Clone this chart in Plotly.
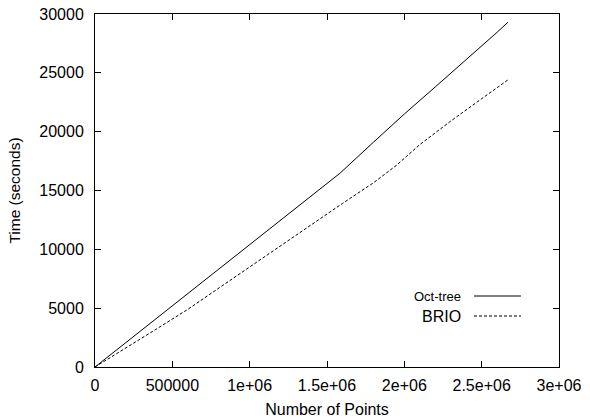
import plotly.graph_objects as go

# Data
octree_x = [0, 0.2e6, 0.4e6, 0.6e6, 0.8e6, 1.0e6, 1.2e6, 1.4e6, 1.585e6, 1.8e6, 2.0e6, 2.2e6, 2.4e6, 2.6e6, 2.67e6]
octree_y = [0, 2080, 4150, 6220, 8300, 10350, 12450, 14500, 16480, 19100, 21500, 23800, 26100, 28450, 29300]

brio_x = [0, 0.2e6, 0.4e6, 0.6e6, 0.8e6, 1.0e6, 1.2e6, 1.4e6, 1.6e6, 1.8e6, 1.95e6, 2.1e6, 2.3e6, 2.5e6, 2.67e6]
brio_y = [0, 1600, 3250, 4900, 6700, 8550, 10350, 12150, 13900, 15650, 17150, 18900, 20900, 22800, 24400]

x_tickvals = [0, 500000, 1000000, 1500000, 2000000, 2500000, 3000000]
x_ticktext = ["0", "500000", "1e+06", "1.5e+06", "2e+06", "2.5e+06", "3e+06"]
y_tickvals = [0, 5000, 10000, 15000, 20000, 25000, 30000]
y_ticktext = ["0", "5000", "10000", "15000", "20000", "25000", "30000"]

font_family = "Liberation Sans, Arial, sans-serif"

fig = go.Figure()
fig.add_trace(go.Scatter(x=octree_x, y=octree_y, mode="lines", name="Oct-tree",
                         line=dict(color="black", width=1), showlegend=False))
fig.add_trace(go.Scatter(x=brio_x, y=brio_y, mode="lines", name="BRIO",
                         line=dict(color="black", width=1, dash="3px,2px"), showlegend=False))

axis_common = dict(showline=True, linecolor="black", linewidth=1, mirror="ticks",
                   ticks="inside", ticklen=6, tickcolor="black", tickwidth=1,
                   showgrid=False, zeroline=False, automargin=False,
                   ticklabeloverflow="allow",
                   tickfont=dict(family=font_family, size=16, color="black"))

fig.update_xaxes(range=[0, 3000000], tickvals=x_tickvals, ticktext=x_ticktext,
                 ticklabelstandoff=4,
                 title=dict(text="Number of Points", font=dict(family=font_family, size=16, color="black"), standoff=12),
                 **axis_common)
fig.update_yaxes(range=[0, 30000], tickvals=y_tickvals, ticktext=y_ticktext,
                 ticklabelstandoff=7,
                 title=dict(text="Time (seconds)", font=dict(family=font_family, size=15.5, color="black"), standoff=14),
                 **axis_common)

# Legend drawn manually (key text + sample line)
fig.add_annotation(xref="paper", yref="paper", x=(463 - 95) / 464, y=(367 - 296) / 353,
                   text="Oct-tree", showarrow=False, xanchor="right", yanchor="middle",
                   font=dict(family=font_family, size=13, color="black"))
fig.add_annotation(xref="paper", yref="paper", x=(463 - 95) / 464, y=(367 - 316) / 353,
                   text="BRIO", showarrow=False, xanchor="right", yanchor="middle",
                   font=dict(family=font_family, size=16, color="black"))
fig.add_shape(type="line", xref="paper", yref="paper",
              x0=(474 - 95) / 464, x1=(521 - 95) / 464, y0=(367 - 296) / 353, y1=(367 - 296) / 353,
              line=dict(color="black", width=1))
fig.add_shape(type="line", xref="paper", yref="paper",
              x0=(474 - 95) / 464, x1=(521 - 95) / 464, y0=(367 - 316) / 353, y1=(367 - 316) / 353,
              line=dict(color="black", width=1, dash="3px,2px"))

fig.update_layout(width=590, height=418, margin=dict(l=95, r=31, t=14, b=51),
                  plot_bgcolor="white", paper_bgcolor="white",
                  font=dict(family=font_family, size=16, color="black"))

fig.write_html("out.html", config={"displayModeBar": False},
               post_script="document.body.style.margin='0';")
